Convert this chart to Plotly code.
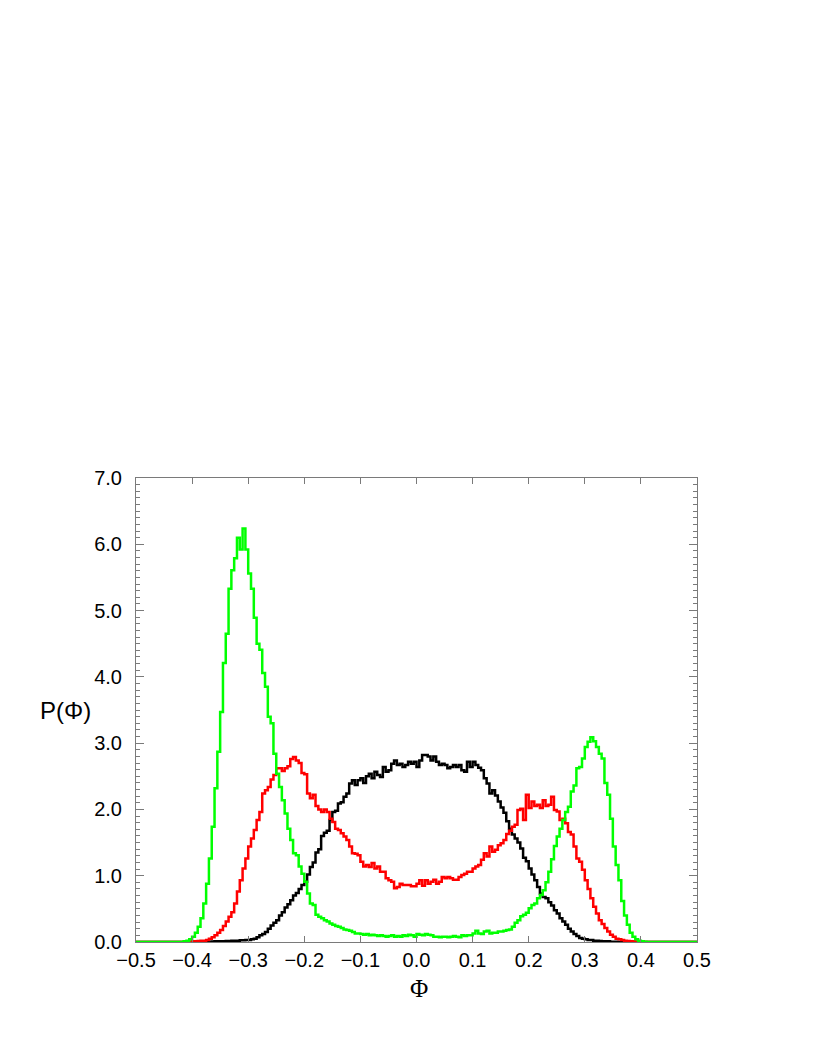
import plotly.graph_objects as go

# Histogram bins: width 0.005, values listed from PHI_START upward
BIN_WIDTH = 0.005
PHI_MIN, PHI_MAX = -0.5, 0.5
PHI_START = -0.42

black_vals = [
    0, 0, 0, 0, 0, 0, 0, 0.003, 0.003, 0.005,
    0.005, 0.007, 0.01, 0.01, 0.01, 0.012, 0.015, 0.015, 0.02, 0.02,
    0.02, 0.025, 0.025, 0.03, 0.03, 0.04, 0.05, 0.07, 0.10, 0.12,
    0.15, 0.20, 0.25, 0.29, 0.33, 0.40, 0.45, 0.52, 0.57, 0.63,
    0.70, 0.74, 0.80, 0.86, 0.91, 1.02, 1.13, 1.20, 1.35, 1.40,
    1.60, 1.65, 1.68, 1.84, 1.96, 1.98, 2.09, 2.11, 2.19, 2.24,
    2.39, 2.44, 2.37, 2.44, 2.47, 2.40, 2.50, 2.54, 2.47, 2.57,
    2.52, 2.49, 2.64, 2.57, 2.59, 2.69, 2.74, 2.67, 2.69, 2.64,
    2.67, 2.72, 2.69, 2.72, 2.64, 2.74, 2.82, 2.82, 2.80, 2.74,
    2.80, 2.72, 2.67, 2.69, 2.67, 2.62, 2.64, 2.67, 2.64, 2.67,
    2.59, 2.57, 2.72, 2.64, 2.72, 2.67, 2.63, 2.59, 2.47, 2.39,
    2.24, 2.29, 2.21, 2.12, 2.03, 1.95, 1.82, 1.71, 1.62, 1.56,
    1.50, 1.41, 1.27, 1.22, 1.11, 1.02, 0.93, 0.83, 0.73, 0.68,
    0.66, 0.60, 0.55, 0.48, 0.43, 0.36, 0.31, 0.26, 0.20, 0.16,
    0.12, 0.09, 0.06, 0.05, 0.04, 0.03, 0.03, 0.02, 0.02, 0.015,
    0.01, 0.01, 0.01, 0.005, 0.005, 0.005, 0, 0, 0, 0,
    0, 0, 0, 0, 0, 0, 0, 0, 0, 0,
]

red_vals = [
    0, 0, 0.005, 0.005, 0.01, 0.01, 0.015, 0.02, 0.02, 0.03,
    0.05, 0.07, 0.10, 0.14, 0.18, 0.24, 0.31, 0.38, 0.45, 0.58,
    0.76, 0.93, 1.11, 1.26, 1.44, 1.56, 1.69, 1.84, 1.96, 2.24,
    2.29, 2.34, 2.45, 2.52, 2.62, 2.62, 2.58, 2.62, 2.65, 2.76,
    2.79, 2.74, 2.70, 2.55, 2.53, 2.24, 2.17, 2.22, 2.05, 2.00,
    1.96, 2.00, 1.96, 1.86, 1.81, 1.71, 1.69, 1.64, 1.59, 1.54,
    1.44, 1.34, 1.33, 1.31, 1.21, 1.14, 1.16, 1.13, 1.19, 1.11,
    1.14, 1.06, 1.06, 0.96, 0.93, 0.91, 0.81, 0.83, 0.88, 0.86,
    0.86, 0.86, 0.84, 0.84, 0.88, 0.93, 0.85, 0.93, 0.88, 0.91,
    0.94, 0.88, 0.91, 0.98, 0.96, 0.98, 0.96, 0.94, 0.94, 0.98,
    1.01, 1.03, 1.06, 1.06, 1.11, 1.14, 1.16, 1.24, 1.34, 1.29,
    1.44, 1.36, 1.39, 1.46, 1.49, 1.54, 1.63, 1.68, 1.74, 1.77,
    1.99, 2.01, 1.84, 2.22, 2.02, 2.12, 2.05, 2.07, 2.02, 2.14,
    2.05, 2.07, 2.19, 1.99, 1.97, 1.84, 1.86, 1.79, 1.66, 1.62,
    1.44, 1.26, 1.21, 1.09, 0.93, 0.80, 0.66, 0.53, 0.43, 0.33,
    0.27, 0.21, 0.16, 0.11, 0.08, 0.05, 0.04, 0.03, 0.02, 0.015,
    0.01, 0.01, 0.005, 0.005, 0, 0, 0, 0, 0, 0,
]

green_vals = [
    0.00, 0.01, 0.02, 0.04, 0.08, 0.14, 0.23, 0.36, 0.58, 0.88,
    1.26, 1.74, 2.32, 2.87, 3.47, 4.21, 4.65, 5.33, 5.61, 5.79,
    6.10, 5.92, 6.24, 5.92, 5.56, 5.33, 4.89, 4.50, 4.41, 4.06,
    3.85, 3.40, 3.30, 2.84, 2.54, 2.34, 2.14, 1.94, 1.71, 1.54,
    1.34, 1.31, 1.14, 1.03, 0.91, 0.73, 0.58, 0.56, 0.41, 0.38,
    0.36, 0.33, 0.31, 0.28, 0.26, 0.24, 0.23, 0.21, 0.19, 0.18,
    0.17, 0.15, 0.13, 0.13, 0.12, 0.11, 0.12, 0.10, 0.11, 0.10,
    0.09, 0.10, 0.09, 0.08, 0.09, 0.10, 0.08, 0.09, 0.08, 0.10,
    0.09, 0.11, 0.10, 0.08, 0.12, 0.11, 0.10, 0.12, 0.11, 0.10,
    0.08, 0.08, 0.07, 0.08, 0.08, 0.07, 0.08, 0.09, 0.08, 0.07,
    0.10, 0.09, 0.10, 0.10, 0.13, 0.17, 0.13, 0.12, 0.16, 0.17,
    0.13, 0.14, 0.14, 0.16, 0.16, 0.17, 0.18, 0.19, 0.23, 0.29,
    0.33, 0.39, 0.41, 0.44, 0.51, 0.56, 0.58, 0.66, 0.71, 0.78,
    0.90, 1.06, 1.25, 1.45, 1.59, 1.71, 1.84, 1.96, 2.04, 2.27,
    2.36, 2.62, 2.64, 2.77, 2.94, 3.02, 3.09, 3.03, 2.94, 2.84,
    2.77, 2.40, 2.22, 1.86, 1.44, 1.16, 0.93, 0.62, 0.40, 0.26,
    0.14, 0.08, 0.04, 0.02, 0.01, 0.005, 0, 0, 0, 0,
]

x_ticks = [-0.5, -0.4, -0.3, -0.2, -0.1, 0.0, 0.1, 0.2, 0.3, 0.4, 0.5]
y_ticks = [0, 1, 2, 3, 4, 5, 6, 7]

series = [("black", "#000000", black_vals),
          ("red", "#ff0000", red_vals),
          ("green", "#00ff00", green_vals)]

n_bins = int(round((PHI_MAX - PHI_MIN) / BIN_WIDTH))
start_idx = int(round((PHI_START - PHI_MIN) / BIN_WIDTH))
edges = [round(PHI_MIN + BIN_WIDTH * i, 6) for i in range(n_bins + 1)]

fig = go.Figure()
for name, color, vals in series:
    full = [0.0] * start_idx + list(vals)
    full = full + [0.0] * (n_bins - len(full))
    full = full[:n_bins]
    fig.add_trace(go.Scatter(
        x=edges, y=full + [full[-1]], mode="lines", name=name,
        line=dict(color=color, width=2.5, shape="hv"),
        showlegend=False, hoverinfo="skip"))

# dummy trace to activate mirror axes
fig.add_trace(go.Scatter(x=[None], y=[None], xaxis="x2", yaxis="y2",
                         showlegend=False, hoverinfo="skip"))

FRAME = "#7a7a7a"
TICKFONT = dict(family="Liberation Sans, Arial, sans-serif", size=20, color="black")

fig.update_layout(
    width=817, height=1058,
    margin=dict(l=128, r=128, t=470, b=124),
    paper_bgcolor="white", plot_bgcolor="white",
    xaxis=dict(range=[PHI_MIN, PHI_MAX], tickvals=x_ticks, tickformat=".1f",
               ticks="inside", ticklen=6, tickcolor=FRAME, tickwidth=1,
               showline=True, linecolor=FRAME, linewidth=1, mirror=True,
               showgrid=False, zeroline=False, tickfont=TICKFONT,
               ticklabelstandoff=0),
    yaxis=dict(range=[0, 7], tickvals=y_ticks, tickformat=".1f",
               ticks="inside", ticklen=8, tickcolor=FRAME, tickwidth=1,
               minor=dict(dtick=0.1, ticks="inside", ticklen=4, tickcolor=FRAME),
               showline=True, linecolor=FRAME, linewidth=1, mirror=True,
               showgrid=False, zeroline=False, tickfont=TICKFONT,
               ticklabelstandoff=9),
    xaxis2=dict(range=[PHI_MIN, PHI_MAX], tickvals=x_ticks, overlaying="x",
                side="top", ticks="inside", ticklen=6, tickcolor=FRAME,
                showticklabels=False, showgrid=False, zeroline=False,
                showline=False),
    yaxis2=dict(range=[0, 7], tickvals=y_ticks, overlaying="y", side="right",
                ticks="inside", ticklen=8, tickcolor=FRAME,
                minor=dict(dtick=0.1, ticks="inside", ticklen=4, tickcolor=FRAME),
                showticklabels=False, showgrid=False, zeroline=False,
                showline=False),
    annotations=[
        dict(text="P(Φ)", xref="paper", yref="paper",
             x=(65 - 136) / 561, y=(942 - 710) / 464,
             xanchor="center", yanchor="middle", showarrow=False,
             font=dict(family="Liberation Sans, Arial, sans-serif", size=24, color="black")),
        dict(text="Φ", xref="paper", yref="paper",
             x=(419 - 136) / 561, y=(942 - 973) / 464,
             xanchor="center", yanchor="top", showarrow=False,
             font=dict(family="Liberation Serif, Times New Roman, serif", size=25, color="black")),
    ],
)

fig.write_html("out.html")
